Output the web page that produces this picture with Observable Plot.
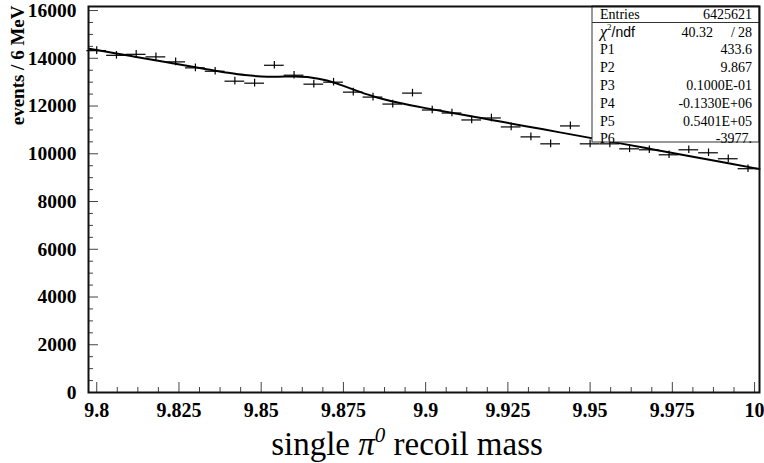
<!DOCTYPE html>
<html>
<head>
<meta charset="utf-8">
<script src="https://cdn.jsdelivr.net/npm/d3@7"></script>
<script src="https://cdn.jsdelivr.net/npm/@observablehq/plot@0.6"></script>
<style>
  html, body { margin: 0; padding: 0; background: #fff; }
  #chart svg { display: block; }
</style>
</head>
<body>
<div id="chart"></div>
<script>
// ---- data ----
const binCenters = [9.800, 9.806, 9.812, 9.818, 9.824, 9.830, 9.836, 9.842, 9.848, 9.854,
                    9.860, 9.866, 9.872, 9.878, 9.884, 9.890, 9.896, 9.902, 9.908, 9.914,
                    9.920, 9.926, 9.932, 9.938, 9.944, 9.950, 9.956, 9.962, 9.968, 9.974,
                    9.980, 9.986, 9.992, 9.998];
const counts = [14320, 14125, 14167, 14060, 13850, 13600, 13458, 13042, 12958, 13708,
                13292, 12917, 13000, 12583, 12375, 12083, 12542, 11833, 11708, 11417,
                11500, 11125, 10708, 10417, 11167, 10417, 10417, 10208, 10167, 9958,
                10167, 10042, 9792, 9375];
const countErr = 160;          // vertical error half-length (events)
const binHalfWidth = 0.003;    // half of the 6 MeV bin

// fitted curve
const fitX = [9.7976, 9.800, 9.810, 9.820, 9.830, 9.835, 9.840, 9.845, 9.850, 9.855,
              9.860, 9.865, 9.870, 9.875, 9.880, 9.885, 9.890, 9.895, 9.900, 9.910,
              9.920, 9.930, 9.940, 9.950, 9.960, 9.970, 9.980, 9.990, 10.000, 10.0015];
const fitY = [14404, 14347, 14107, 13867, 13625, 13506, 13394, 13300, 13242, 13229,
              13235, 13199, 13067, 12844, 12592, 12369, 12191, 12046, 11913, 11666,
              11417, 11168, 10918, 10667, 10415, 10162, 9909, 9655, 9400, 9362];

const xTicks = [9.8, 9.825, 9.85, 9.875, 9.9, 9.925, 9.95, 9.975, 10];
const xTickLabels = ["9.8", "9.825", "9.85", "9.875", "9.9", "9.925", "9.95", "9.975", "10"];
const yTicks = [0, 2000, 4000, 6000, 8000, 10000, 12000, 14000, 16000];
const xMinorStep = 0.00625;
const yMinorStep = 500;

const statsLabels = ["Entries", "χ2/ndf", "P1", "P2", "P3", "P4", "P5", "P6"];
const statsValues = ["6425621", "40.32 / 28", "433.6", "9.867", "0.1000E-01", "-0.1330E+06", "0.5401E+05", "-3977."];

const xTitle = "single π0 recoil mass";
const yTitle = "events / 6 MeV";

// ---- derived tables ----
const points = binCenters.map((x, i) => ({x, y: counts[i]}));
const fit = fitX.map((x, i) => ({x, y: fitY[i]}));
const xMinor = d3.range(9.8, 10.0001, xMinorStep).filter(v => !xTicks.some(t => Math.abs(t - v) < 1e-6));
const yMinor = d3.range(0, 16001, yMinorStep).filter(v => !yTicks.includes(v));

const W = 764, H = 463;
const mL = 88, mR = 5, mT = 6, mB = 71;
const plotW = W - mL - mR, plotH = H - mT - mB;
const serif = "'Liberation Serif', 'Times New Roman', serif";
const sans = "'Liberation Sans', Arial, sans-serif";

function overlay(index, scales, values, dims) {
  const g = d3.create("svg:g");
  // x-axis title
  const t = g.append("text")
    .attr("x", 407).attr("y", 455)
    .attr("text-anchor", "middle")
    .attr("font-family", serif)
    .attr("font-size", 33)
    .attr("fill", "#000");
  t.append("tspan").text("single ");
  t.append("tspan").attr("font-style", "italic").text("π");
  t.append("tspan").attr("font-style", "italic").attr("font-size", 21).attr("dy", -13).text("0");
  t.append("tspan").attr("dy", 13).text(" recoil mass");

  // stats box
  const bx0 = 592, bx1 = W - mR, by0 = mT, by1 = 142;
  g.append("rect").attr("x", bx0).attr("y", by0).attr("width", bx1 - bx0).attr("height", by1 - by0)
    .attr("fill", "#fff").attr("stroke", "#333").attr("stroke-width", 1);
  g.append("line").attr("x1", bx0).attr("x2", bx1).attr("y1", 22.5).attr("y2", 22.5)
    .attr("stroke", "#333").attr("stroke-width", 1);
  const rowY = [19, 36.5, 54, 72, 90, 108, 126, 143];
  const fs = 14;
  statsLabels.forEach((lab, i) => {
    const tx = g.append("text").attr("x", 600).attr("y", rowY[i])
      .attr("text-anchor", "start")
      .attr("font-family", serif).attr("font-size", fs).attr("fill", "#000");
    if (i === 1) {
      tx.append("tspan").attr("font-style", "italic").attr("font-size", 16).text("χ");
      tx.append("tspan").attr("font-size", 9).attr("dy", -7).text("2");
      tx.append("tspan").attr("dy", 7).attr("font-family", sans).attr("font-size", 14).text("/ndf");
    } else {
      tx.text(lab);
    }
  });
  statsValues.forEach((v, i) => {
    if (i === 1) {
      const parts = v.split(" / ");
      g.append("text").attr("x", 713).attr("y", rowY[i]).attr("text-anchor", "end")
        .attr("font-family", serif).attr("font-size", fs).text(parts[0]);
      g.append("text").attr("x", 733).attr("y", rowY[i]).attr("text-anchor", "middle")
        .attr("font-family", serif).attr("font-size", fs).text("/");
      g.append("text").attr("x", 752).attr("y", rowY[i]).attr("text-anchor", "end")
        .attr("font-family", serif).attr("font-size", fs).text(parts[1]);
    } else {
      g.append("text").attr("x", 752).attr("y", rowY[i]).attr("text-anchor", "end")
        .attr("font-family", serif).attr("font-size", fs).text(v);
    }
  });
  return g.node();
}

const chart = Plot.plot({
  width: W, height: H,
  marginLeft: mL, marginRight: mR, marginTop: mT, marginBottom: mB,
  style: {fontFamily: serif, color: "#000", background: "#fff"},
  x: {domain: [9.7975, 10.0015]},
  y: {domain: [0, 16170]},
  marks: [
    // minor & major ticks (pointing inside)
    Plot.ruleX(xMinor, {x: d => d, insetTop: plotH - 5, stroke: "#444", strokeWidth: 1}),
    Plot.ruleX(xTicks, {x: d => d, insetTop: plotH - 10, stroke: "#444", strokeWidth: 1}),
    Plot.ruleY(yMinor, {y: d => d, insetRight: plotW - 5, stroke: "#444", strokeWidth: 1}),
    Plot.ruleY(yTicks, {y: d => d, insetRight: plotW - 10, stroke: "#444", strokeWidth: 1}),
    Plot.axisX({ticks: xTicks, tickSize: 0, tickPadding: 10,
      tickFormat: d => xTickLabels[xTicks.indexOf(d)],
      fontSize: 20, fontWeight: "bold", fontFamily: serif, label: null}),
    Plot.axisY({ticks: yTicks, tickSize: 0, tickPadding: 12, tickFormat: d3.format("d"),
      fontSize: 19.5, fontWeight: "bold", fontFamily: serif, label: null}),
    Plot.text([yTitle], {text: d => d, frameAnchor: "top-left", dx: -71, dy: -1,
      rotate: -90, textAnchor: "end", lineAnchor: "middle",
      fontSize: 19, fontWeight: "bold", fontFamily: serif, fill: "#000"}),
    // data crosses
    Plot.ruleY(points, {x1: d => d.x - binHalfWidth, x2: d => d.x + binHalfWidth, y: "y", stroke: "#000", strokeWidth: 1.2}),
    Plot.ruleX(points, {x: "x", y1: d => d.y - countErr, y2: d => d.y + countErr, stroke: "#000", strokeWidth: 1.2}),
    // fit
    Plot.line(fit, {x: "x", y: "y", curve: "catmull-rom", stroke: "#000", strokeWidth: 2}),
    overlay,
    Plot.frame({stroke: "#111", strokeWidth: 2})
  ]
});
document.getElementById("chart").appendChild(chart);
</script>
</body>
</html>
